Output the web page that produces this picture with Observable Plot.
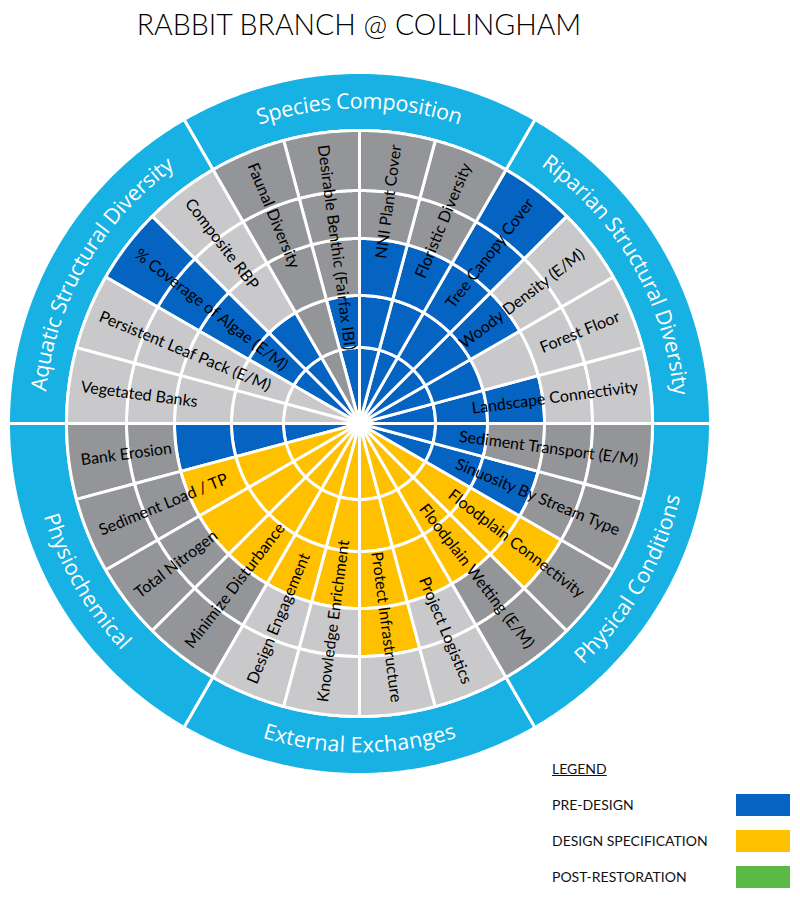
<!DOCTYPE html>
<html>
<head>
<meta charset="utf-8">
<script src="https://cdn.jsdelivr.net/npm/d3@7"></script>
<script src="https://cdn.jsdelivr.net/npm/@observablehq/plot@0.6"></script>
<style>
  body { margin: 0; background: #fff; }
  #wrap { position: relative; width: 800px; height: 900px; overflow: hidden; }
  #title { height: 62px; box-sizing: border-box; padding-top: 9px; width: 718px; text-align: center;
           font-family: Lato, sans-serif; font-weight: 300; font-size: 28.5px; line-height: 30px; color: #000; }
  #legend { position: absolute; left: 552px; top: 760px; width: 240px; font-family: Lato, sans-serif; font-size: 14px; color: #111; }
  #legend .head { text-decoration: underline; position: absolute; left: 0; top: 0; }
  #legend .item { position: absolute; left: 0; width: 240px; height: 22px; line-height: 22px; }
  #legend .sw { position: absolute; left: 184px; top: 0; width: 54px; height: 22px; }
</style>
</head>
<body>
<div id="wrap">
  <div id="title">RABBIT BRANCH @ COLLINGHAM</div>
  <div id="chart"></div>
  <div id="legend"></div>
</div>
<script>
// ---- data (counter-clockwise from 3 o'clock, 15° each) ----
const categories = [
  "Landscape Connectivity", "Forest Floor", "Woody Density (E/M)", "Tree Canopy Cover",
  "Floristic Diversity", "NNI Plant Cover", "Desirable Benthic (Fairfax IBI)", "Faunal Diversity",
  "Composite RBP", "% Coverage of Algae (E/M)", "Persistent Leaf Pack (E/M)", "Vegetated Banks",
  "Bank Erosion", "Sediment Load / TP", "Total Nitrogen", "Minimize Disturbance",
  "Design Engagement", "Knowledge Enrichment", "Protect Infrastructure", "Project Logistics",
  "Floodplain Wetting (E/M)", "Floodplain Connectivity", "Sinuosity By Stream Type", "Sediment Transport (E/M)"
];
const groups = [
  "Riparian Structural Diversity", "Species Composition", "Aquatic Structural Diversity",
  "Physiochemical", "External Exchanges", "Physical Conditions"
];
const groupShade = ["Light", "Dark", "Light", "Dark", "Light", "Dark"];
// levels reached (rings filled from the centre, 0–5)
const preDesign  = [3, 2, 3, 5, 3, 3, 2, 0, 2, 5, 0, 0, 3, 0, 0, 0, 0, 0, 0, 0, 0, 0, 3, 2];
const designSpec = [0, 0, 0, 0, 0, 0, 0, 0, 0, 0, 0, 0, 0, 3, 3, 3, 3, 3, 4, 3, 3, 4, 0, 0];
const legendLabels = ["PRE-DESIGN", "DESIGN SPECIFICATION", "POST-RESTORATION"];
const legendKeys = ["Pre-design", "Design specification", "Post-restoration"];

// ---- styling / geometry ----
const colorDomain = ["Pre-design", "Design specification", "Post-restoration", "Light", "Dark", "Band"];
const colorRange  = ["#0563C1", "#FFC000", "#5AB947", "#C9C9CB", "#939598", "#17B1E3"];
const ringR = [0, 76, 128, 185, 233, 293];
const bandR = [293, 351];
const step = 360 / categories.length;
const rad = a => a * Math.PI / 180;

function sector(a0, a1, r0, r1, props) {
  const outer = d3.range(a0, a1 + 1e-9, 0.5).map(a => [r1 * Math.cos(rad(a)), r1 * Math.sin(rad(a))]);
  const inner = r0 > 0 ? d3.range(a1, a0 - 1e-9, -0.5).map(a => [r0 * Math.cos(rad(a)), r0 * Math.sin(rad(a))]) : [[0, 0]];
  const ring = [...outer, ...inner, outer[0]];
  return {type: "Feature", properties: props, geometry: {type: "Polygon", coordinates: [ring]}};
}

const cells = [];
categories.forEach((c, i) => {
  const g = Math.floor(i / 4);
  for (let j = 1; j <= 5; j++) {
    const key = j <= preDesign[i] ? "Pre-design" : j <= designSpec[i] ? "Design specification" : groupShade[g];
    cells.push(sector(i * step, (i + 1) * step, ringR[j - 1], ringR[j], {key}));
  }
});
const band = groups.map((g, k) => sector(k * 60, (k + 1) * 60, bandR[0], bandR[1], {key: "Band"}));

const labels = categories.map((name, i) => ({name, angle: i * step + step / 2}));
const rightLabels = labels.filter(d => d.angle < 90 || d.angle > 270);
const leftLabels = labels.filter(d => d.angle > 90 && d.angle < 270);
const labelR = 281;

// curved group titles: one text element per character
const gSize = 21.5;
const ctx = document.createElement("canvas").getContext("2d");
ctx.font = `500 ${gSize}px 'Open Sans'`;
const chars = [];
groups.forEach((g, k) => {
  const center = k * 60 + 30;
  const top = center < 180;
  const rb = 322;
  const widths = [...g].map(ch => ctx.measureText(ch).width);
  const total = d3.sum(widths);
  const span = total / rb * 180 / Math.PI;
  let cum = 0;
  [...g].forEach((ch, n) => {
    const off = (cum + widths[n] / 2) / rb * 180 / Math.PI;
    cum += widths[n];
    if (ch === " ") return;
    const a = top ? center + span / 2 - off : center - span / 2 + off;
    chars.push({ch, x: rb * Math.cos(rad(a)), y: rb * Math.sin(rad(a)), rot: top ? 90 - a : -90 - a});
  });
});

const R = bandR[1];
const chart = Plot.plot({
  width: 800, height: 720,
  marginLeft: 8, marginRight: 90, marginTop: 10, marginBottom: 8,
  projection: {type: "reflect-y", domain: {type: "MultiPoint", coordinates: [[-R, -R], [R, R]]}},
  color: {domain: colorDomain, range: colorRange},
  marks: [
    Plot.geo(band, {fill: d => d.properties.key, stroke: "white", strokeWidth: 3}),
    Plot.geo(cells, {fill: d => d.properties.key, stroke: "white", strokeWidth: 3}),
    Plot.dot([{x: 0, y: 0}], {x: "x", y: "y", r: 10, fill: "white"}),
    Plot.text(rightLabels, {x: d => labelR * Math.cos(rad(d.angle)), y: d => labelR * Math.sin(rad(d.angle)),
      text: "name", rotate: d => -d.angle, textAnchor: "end", fontSize: 16, fontFamily: "Lato", fill: "#000"}),
    Plot.text(leftLabels, {x: d => labelR * Math.cos(rad(d.angle)), y: d => labelR * Math.sin(rad(d.angle)),
      text: "name", rotate: d => 180 - d.angle, textAnchor: "start", fontSize: 16, fontFamily: "Lato", fill: "#000"}),
    Plot.text(chars, {x: "x", y: "y", text: "ch", rotate: "rot", fontSize: gSize, fontWeight: 500, fontFamily: "Open Sans", fill: "white"})
  ]
});
document.getElementById("chart").appendChild(chart);

// legend (uses the same colour scale)
const scale = chart.scale("color");
const lg = document.getElementById("legend");
const head = document.createElement("div");
head.className = "head"; head.textContent = "LEGEND";
lg.appendChild(head);
legendLabels.forEach((t, i) => {
  const it = document.createElement("div");
  it.className = "item"; it.style.top = (34 + i * 36) + "px";
  it.textContent = t;
  const sw = document.createElement("div");
  sw.className = "sw"; sw.style.background = scale.apply(legendKeys[i]);
  it.appendChild(sw);
  lg.appendChild(it);
});
</script>
</body>
</html>
